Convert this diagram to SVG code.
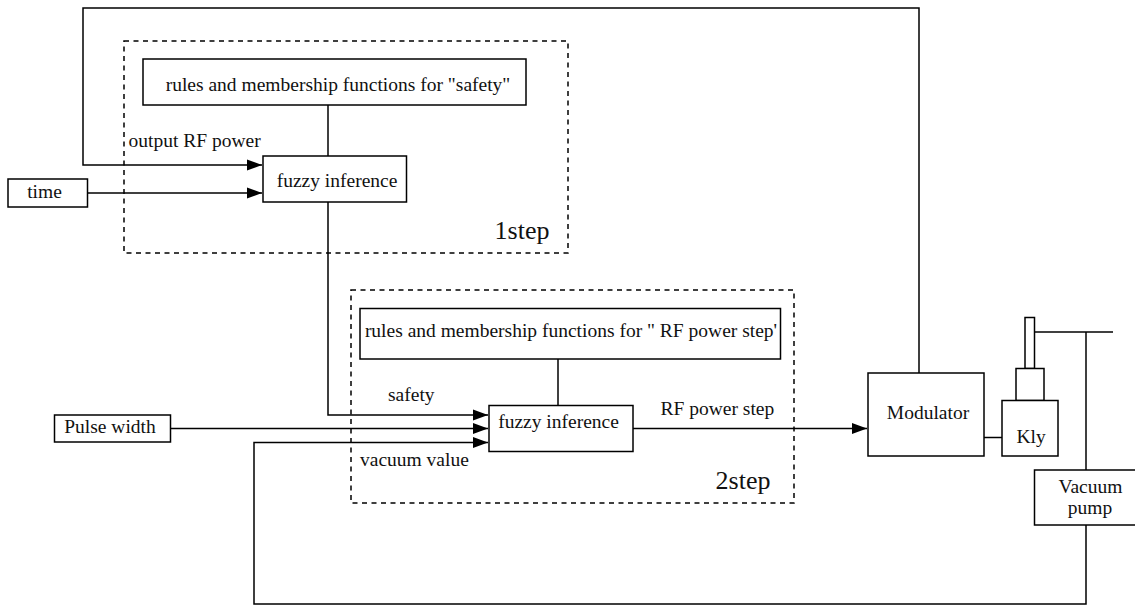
<svg xmlns="http://www.w3.org/2000/svg" width="1135" height="606" viewBox="0 0 1135 606">
<style>
.b{fill:#fff;stroke:#000;stroke-width:1.5}
.n{fill:none;stroke:#000;stroke-width:1.5}
.d{fill:none;stroke:#000;stroke-width:1.5;stroke-dasharray:5 4.500}
text{font-family:"Liberation Serif","Times New Roman",serif;font-size:19.500px;fill:#111;text-anchor:middle}
.s{font-size:26px}
.l{text-anchor:start}
</style>
<defs>
<marker id="a" markerUnits="userSpaceOnUse" markerWidth="15" markerHeight="12" refX="15" refY="6" orient="auto"><path d="M0 .5L15 6L0 11.500Z" fill="#000"/></marker>
</defs>
<rect width="1135" height="606" fill="#fff"/>
<g id="step1"><rect class="d" x="124" y="41" width="444" height="212"/><text class="s" x="522" y="239">1step</text></g>
<g id="step2"><rect class="d" x="351" y="290" width="443" height="213"/><text class="s" x="743" y="489">2step</text></g>
<g id="connectors">
<path class="n" d="M919 373V8H83V165H262" marker-end="url(#a)"/>
<path class="n" d="M88 193H262" marker-end="url(#a)"/>
<path class="n" d="M328 105V156"/>
<path class="n" d="M328 202V415H488" marker-end="url(#a)"/>
<path class="n" d="M171 428.500H488" marker-end="url(#a)"/>
<path class="n" d="M1086 525V604H254V442.500H488" marker-end="url(#a)"/>
<path class="n" d="M558 359V405"/>
<path class="n" d="M633 428.500H867" marker-end="url(#a)"/>
<path class="n" d="M984 437.500H1002"/>
<path class="n" d="M1034.500 332H1113"/>
<path class="n" d="M1086 332V470"/>
</g>
<g id="rules1"><rect class="b" x="143" y="59" width="383" height="46"/><text x="338" y="91">rules and membership functions for "safety"</text></g>
<g id="fuzzy1"><rect class="b" x="263" y="156" width="143.500" height="46"/><text x="337" y="187">fuzzy inference</text></g>
<g id="time"><rect class="b" x="8" y="179" width="79.500" height="28"/><text x="44.500" y="198">time</text></g>
<g id="rules2"><rect class="b" x="360" y="308.500" width="420.500" height="50.500"/><text x="571" y="337">rules and membership functions for " RF power step'</text></g>
<g id="fuzzy2"><rect class="b" x="489" y="405.500" width="144" height="46"/><text x="558.500" y="428">fuzzy inference</text></g>
<g id="pulse"><rect class="b" x="54.500" y="415" width="116" height="27"/><text x="110" y="433">Pulse width</text></g>
<g id="modulator"><rect class="b" x="868" y="373" width="116" height="83"/><text x="928" y="419">Modulator</text></g>
<g id="kly"><rect class="b" x="1025" y="317.500" width="9.500" height="51"/><rect class="b" x="1016" y="368.500" width="28" height="32"/><rect class="b" x="1002" y="400.500" width="56" height="55.500"/><text x="1031" y="443">Kly</text></g>
<g id="vacuum"><rect class="b" x="1034.500" y="470" width="102" height="55"/><text x="1090.500" y="493">Vacuum</text><text x="1090" y="514">pump</text></g>
<g id="labels">
<text class="l" x="128.500" y="147">output RF power</text>
<text class="l" x="388" y="401">safety</text>
<text class="l" x="360" y="466">vacuum value</text>
<text class="l" x="660.500" y="415">RF power step</text>
</g>
</svg>
